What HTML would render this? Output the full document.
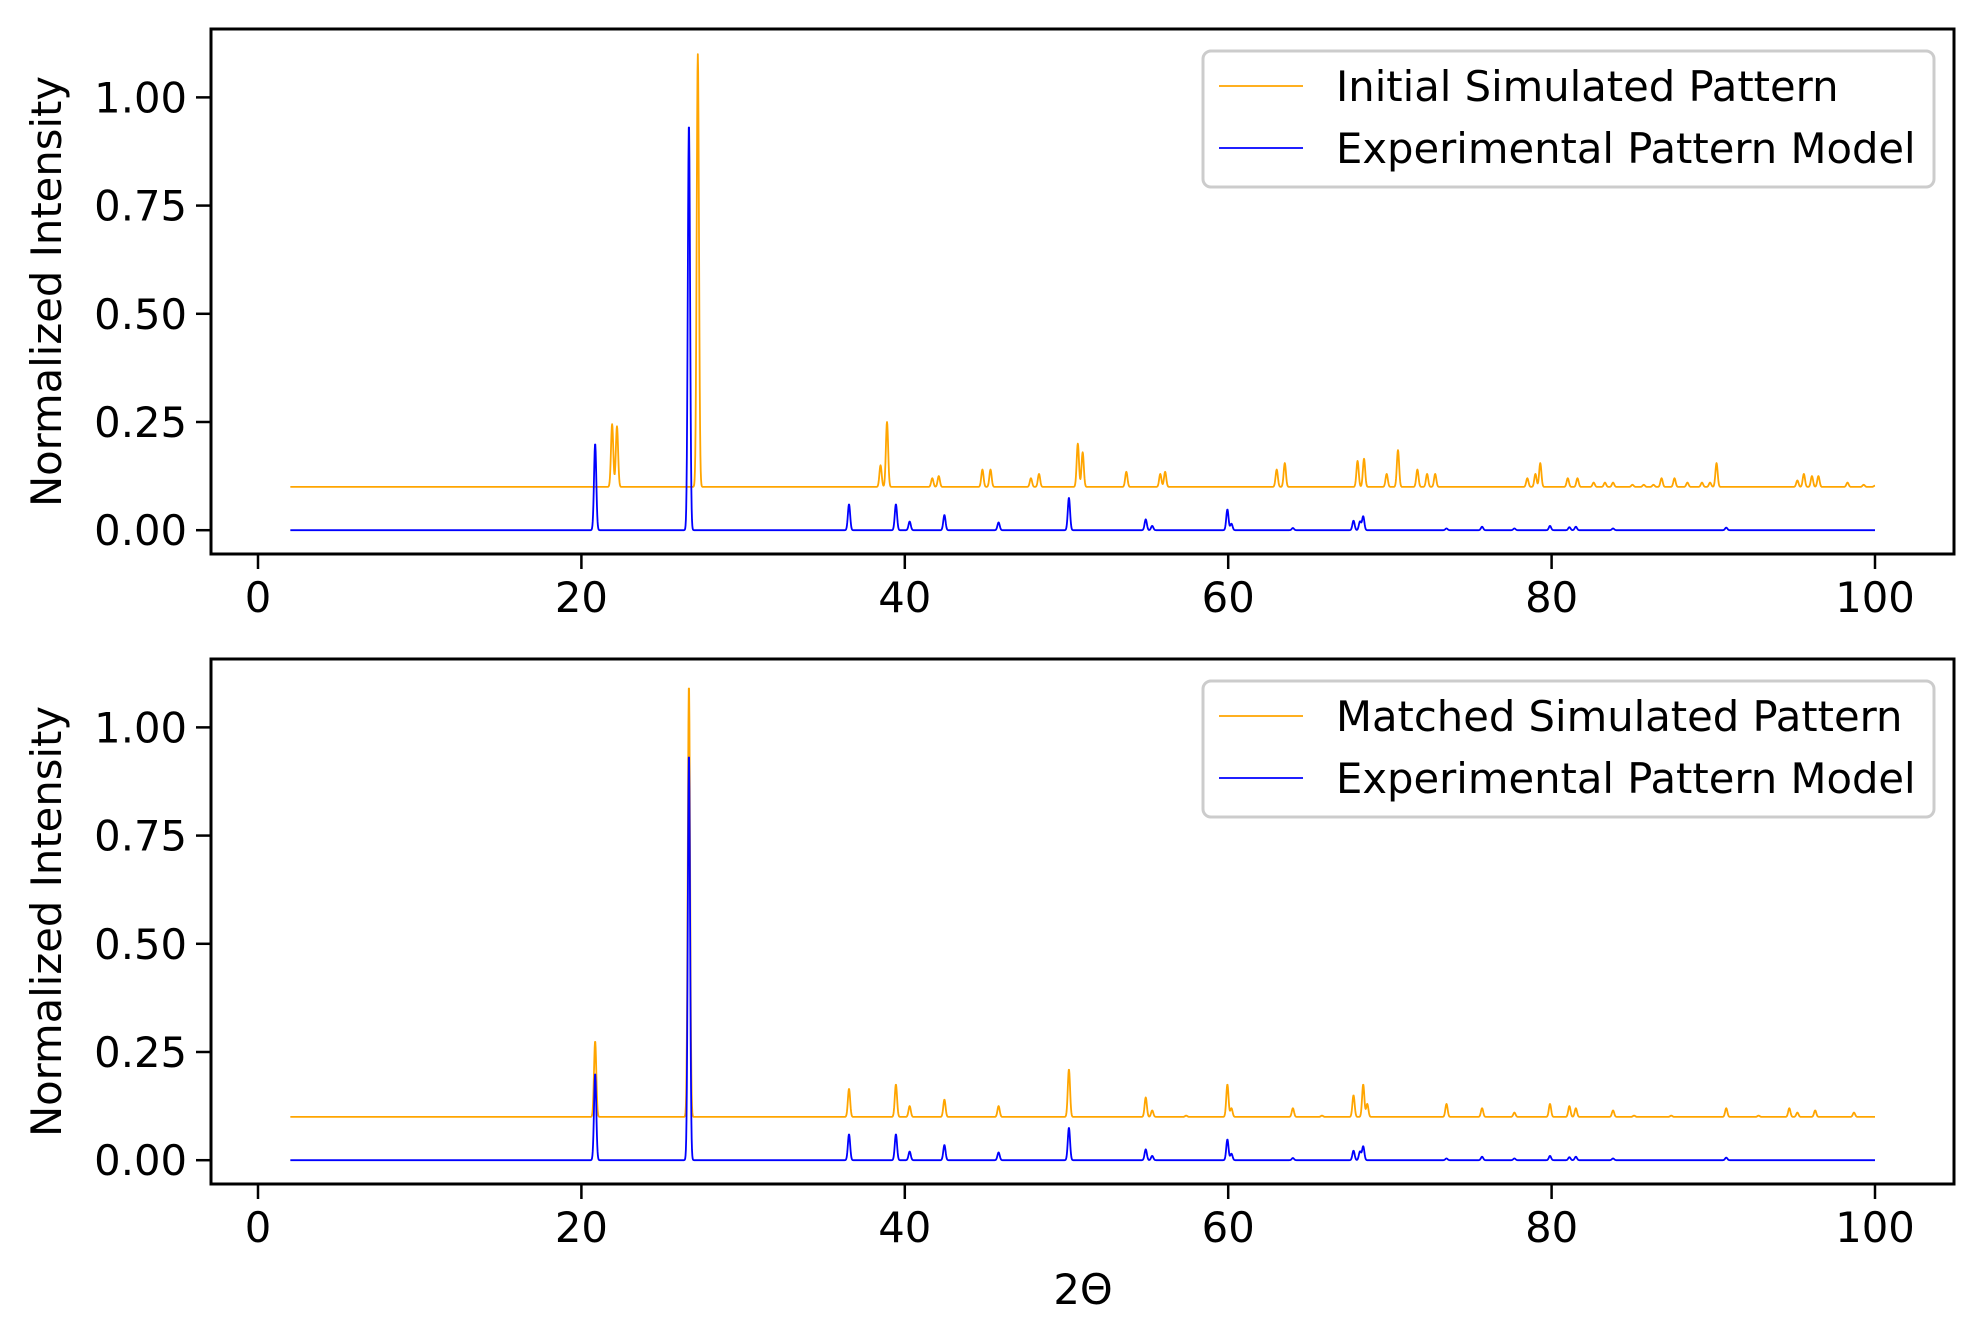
<!DOCTYPE html>
<html><head><meta charset="utf-8"><style>
html,body{margin:0;padding:0;background:#fff}
svg{display:block}
text{font-family:"DejaVu Sans","Liberation Sans",sans-serif;fill:#000}
</style></head><body>
<svg id="chart" width="1984" height="1344" viewBox="0 0 1984 1344" xmlns="http://www.w3.org/2000/svg"></svg>
<script>
// ---- data ----
const blueCenters = [20.85,26.65,36.55,39.45,40.3,42.45,45.8,50.15,54.9,55.3,59.95,60.2,64.0,67.75,68.15,68.35,73.5,75.7,77.7,79.9,81.1,81.5,83.8,90.8];
const blueHeights = [0.20,0.94,0.06,0.06,0.02,0.035,0.018,0.075,0.025,0.01,0.048,0.015,0.005,0.022,0.02,0.032,0.004,0.008,0.004,0.01,0.007,0.008,0.004,0.006];
const initCenters = [21.9,22.2,27.2,38.5,38.9,41.7,42.1,44.8,45.3,47.8,48.3,50.7,51.0,53.7,55.8,56.1,63.0,63.5,68.0,68.4,69.8,70.5,71.7,72.3,72.8,78.5,79.0,79.3,81.0,81.6,82.6,83.3,83.8,85.0,85.7,86.3,86.8,87.6,88.4,89.3,89.8,90.2,95.2,95.6,96.1,96.5,98.3,99.3,100.0];
const initHeights = [0.145,0.14,1.0,0.05,0.15,0.02,0.025,0.04,0.04,0.02,0.03,0.10,0.08,0.035,0.03,0.035,0.04,0.055,0.06,0.065,0.03,0.085,0.04,0.03,0.03,0.02,0.03,0.055,0.02,0.02,0.01,0.01,0.01,0.005,0.005,0.005,0.02,0.02,0.01,0.01,0.01,0.055,0.015,0.03,0.025,0.025,0.01,0.005,0.003];
const matchCenters = [20.85,26.65,36.55,39.45,40.3,42.45,45.8,50.15,54.9,55.3,57.4,59.95,60.2,64.0,65.8,67.75,68.35,68.6,73.5,75.7,77.7,79.9,81.1,81.5,83.8,85.1,87.4,90.8,92.8,94.7,95.2,96.3,98.7];
const matchHeights = [0.175,1.0,0.065,0.075,0.025,0.04,0.025,0.11,0.045,0.015,0.003,0.075,0.02,0.02,0.003,0.05,0.075,0.03,0.03,0.02,0.01,0.03,0.025,0.02,0.015,0.003,0.003,0.02,0.003,0.02,0.01,0.015,0.01];
const orangeBase = 0.1;
const xTicks = [0,20,40,60,80,100];
const yTicks = [0,0.25,0.5,0.75,1.0];
const yTickLabels = ["0.00","0.25","0.50","0.75","1.00"];

const NS="http://www.w3.org/2000/svg";
const svg=document.getElementById('chart');
function mk(tag,attrs,parent){const e=document.createElementNS(NS,tag);for(const k in attrs)e.setAttribute(k,attrs[k]);(parent||svg).appendChild(e);return e;}

function profile(centers,heights,base){
  const pts=[];const sig=0.07;
  for(let t=2;t<=100.0001;t+=0.02){
    let v=base;
    for(let i=0;i<centers.length;i++){const d=(t-centers[i])/sig;if(Math.abs(d)<6)v+=heights[i]*Math.exp(-0.5*d*d);}
    pts.push([t,v]);
  }
  return pts;
}

function panel(name,top,bottom,orangeC,orangeH,orangeLabel,legTop){
  const L=211,R=1954;
  const sx=v=>258+v*16.17;
  const y0=top+(bottom-top)*(1.158/(1.158+0.055));
  const unit=(y0-top)/1.158;
  const sy=v=>y0-v*unit;
  const g=mk('g',{});
  
  
  const clipId=name+'-clip';
  const cp=mk('clipPath',{id:clipId},g);mk('rect',{x:L,y:top,width:R-L,height:bottom-top},cp);
  const series=[[profile(orangeC,orangeH,orangeBase),'#ffa500',name+'-orange-line'],[profile(blueCenters,blueHeights,0),'#0000ff',name+'-blue-line']];
  for(const [pts,col,nm] of series){
    const d='M'+pts.map(p=>sx(p[0]).toFixed(2)+','+sy(p[1]).toFixed(2)).join('L');
    const p=mk('path',{d:d,fill:'none',stroke:col,'stroke-width':1.8,'stroke-linejoin':'round','clip-path':'url(#'+clipId+')'},g);
    
    
  }
  const fr=mk('rect',{x:L,y:top,width:R-L,height:bottom-top,fill:'none',stroke:'#000','stroke-width':3},g);
  
  
  xTicks.forEach(v=>{
    mk('line',{x1:sx(v),x2:sx(v),y1:bottom,y2:bottom+15,stroke:'#000','stroke-width':2.5},g);
    const t=mk('text',{x:sx(v),y:bottom+58,'text-anchor':'middle','font-size':41.7},g);t.textContent=String(v);
    
    
  });
  yTicks.forEach((v,i)=>{
    mk('line',{x1:L,x2:L-15,y1:sy(v),y2:sy(v),stroke:'#000','stroke-width':2.5},g);
    const t=mk('text',{x:L-24,y:sy(v)+15,'text-anchor':'end','font-size':41.7},g);t.textContent=yTickLabels[i];
    
    
  });
  const yl=mk('text',{x:0,y:0,'text-anchor':'middle','font-size':41.7,transform:'translate(61,'+((top+bottom)/2)+') rotate(-90)'},g);
  yl.textContent='Normalized Intensity';
  
  
  const lg=mk('g',{},g);
  
  
  mk('rect',{x:1203,y:legTop,width:731,height:136,rx:8,fill:'#fff','fill-opacity':0.8,stroke:'#cccccc','stroke-width':3},lg);
  const rows=[[orangeLabel,'#ffa500'],['Experimental Pattern Model','#0000ff']];
  rows.forEach((r,i)=>{
    const cy=legTop+35+i*62;
    mk('line',{x1:1219,x2:1303,y1:cy,y2:cy,stroke:r[1],'stroke-width':1.8},lg);
    const t=mk('text',{x:1336,y:cy+15,'font-size':41.7},lg);t.textContent=r[0];
    
    
  });
}
panel('top-panel',29,554,initCenters,initHeights,'Initial Simulated Pattern',51);
panel('bottom-panel',659,1184,matchCenters,matchHeights,'Matched Simulated Pattern',681);
const xl=mk('text',{x:1083,y:1304,'text-anchor':'middle','font-size':41.7});
xl.textContent='2Θ';


</script>
</body></html>
